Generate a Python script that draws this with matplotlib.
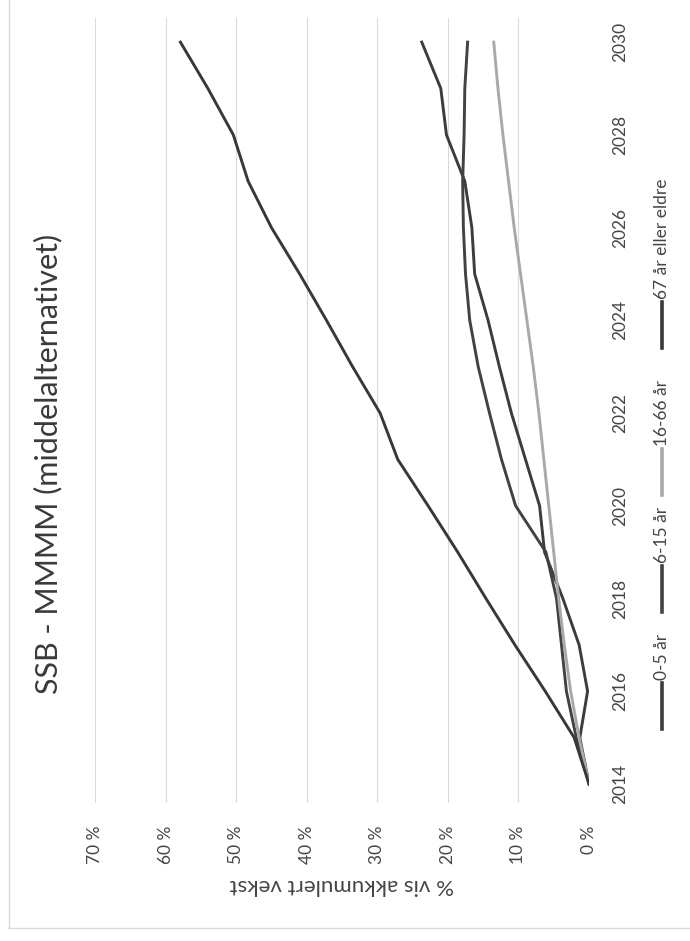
import matplotlib
matplotlib.use("Agg")
import matplotlib.pyplot as plt
from matplotlib.lines import Line2D

# Accumulated population growth since 2014, per age group (%)
years = list(range(2014, 2031))
age_0_5 = [0.0, 1.3, 0.2, 1.4, 3.7, 6.3, 7.0, 9.0, 11.0, 12.7, 14.3, 16.2, 16.6, 17.6, 20.2, 21.0, 23.7]
age_6_15 = [0.0, 1.8, 3.2, 3.9, 4.6, 6.1, 10.4, 12.4, 14.1, 15.7, 16.9, 17.5, 17.8, 17.9, 17.7, 17.6, 17.2]
age_16_66 = [0.0, 1.4, 2.6, 3.5, 4.3, 5.0, 5.7, 6.4, 7.1, 7.9, 8.8, 9.7, 10.6, 11.4, 12.2, 12.9, 13.5]
age_67_plus = [0.0, 2.1, 6.2, 10.5, 14.6, 18.6, 22.8, 27.1, 29.6, 33.5, 37.2, 41.0, 45.0, 48.3, 50.4, 54.0, 57.9]

series_names = ["0-5 år", "6-15 år", "16-66 år", "67 år eller eldre"]
series_values = [age_0_5, age_6_15, age_16_66, age_67_plus]
series_colors = ["#3c3c3c", "#424242", "#a9a9a9", "#383838"]

pct_ticks = [0, 10, 20, 30, 40, 50, 60, 70]
year_ticks = list(range(2014, 2031, 2))
title = "SSB - MMMM (middelalternativet)"
value_label = "% vis akkumulert vekst"

FONT = ["Lato", "DejaVu Sans"]
TEXT = "#454545"
plt.rcParams["font.family"] = FONT

W, H = 690, 941
fig = plt.figure(figsize=(W / 100, H / 100), dpi=100)


def fx(px):
    return px / W


def fy(py):
    return 1 - py / H


# chart area frame
fig.add_artist(Line2D([fx(9), fx(9)], [fy(0), fy(928)], color="#d8d8d8", lw=1.0))
fig.add_artist(Line2D([fx(9), fx(690)], [fy(928), fy(928)], color="#d8d8d8", lw=1.0))

# page is turned a quarter turn: values run right-to-left, years bottom-to-top
ax = fig.add_axes([fx(95), fy(803), fx(589) - fx(95), fy(18) - fy(803)])
for vals, col in zip(series_values, series_colors):
    ax.plot(vals, years, color=col, lw=2.1, solid_joinstyle="round", zorder=3)

ax.set_xlim(70, 0)
ax.set_ylim(2013.59, 2030.52)
for s in ax.spines.values():
    s.set_visible(False)
ax.set_xticks(pct_ticks)
ax.set_xticklabels([f"{v} %" for v in pct_ticks], rotation=90, fontsize=12.5, color=TEXT)
ax.grid(axis="x", color="#dadada", lw=0.8)
ax.grid(axis="y", visible=False)
ax.tick_params(axis="x", length=0, pad=16.5)

ax.yaxis.tick_right()
ax.set_yticks(year_ticks)
ax.set_yticklabels([str(y) for y in year_ticks], rotation=90, va="center", fontsize=12.5, color=TEXT)
ax.tick_params(axis="y", length=0, pad=17)

fig.text(fx(48), fy(464), title, rotation=90, ha="center", va="center", fontsize=22, color="#3a3a3a")
fig.text(fx(342), fy(885), value_label, rotation=180, ha="center", va="center", fontsize=16, color=TEXT)

# legend, laid out along the right edge
legend_line_y = [(729, 683), (612, 566), (495, 449), (348, 302)]
for name, col, (y0, y1) in zip(series_names, series_colors, legend_line_y):
    fig.add_artist(Line2D([fx(662), fx(662)], [fy(y0), fy(y1)], color=col, lw=2.6))
    fig.text(fx(662), fy(y1 - 3), name, rotation=90, ha="center", va="bottom", fontsize=12.5, color=TEXT)

fig.savefig("out.png", dpi=100, facecolor="white")
